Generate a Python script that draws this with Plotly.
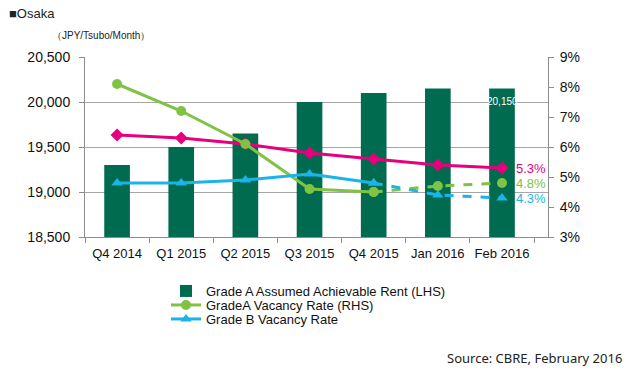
import plotly.graph_objects as go

categories = ["Q4 2014", "Q1 2015", "Q2 2015", "Q3 2015", "Q4 2015", "Jan 2016", "Feb 2016"]
rent = [19300, 19500, 19650, 20000, 20100, 20150, 20150]
grade_a_vac = [8.1, 7.2, 6.1, 4.6, 4.5, 4.7, 4.8]
grade_b_vac = [4.8, 4.8, 4.9, 5.1, 4.8, 4.4, 4.3]
all_grade_vac = [6.4, 6.3, 6.1, 5.8, 5.6, 5.4, 5.3]
left_ticks = [18500, 19000, 19500, 20000, 20500]
right_ticks = [3, 4, 5, 6, 7, 8, 9]

BAR = "#006B4F"
GREEN = "#80C342"
BLUE = "#1AB4E8"
PINK = "#E6007E"
AXIS = "#8C8C8C"
FONT = "Liberation Sans, Arial, sans-serif"

W, H = 637, 381
L, T = 85, 57
R = W - 548
B = H - 237
pw, ph = W - L - R, H - T - B


def px(x_ref):
    return (x_ref - L) / pw


def py(y_ref):
    return (H - B - y_ref) / ph


solid_n = 5  # actual quarters drawn solid, later months dashed
fig = go.Figure()
fig.add_trace(go.Bar(x=categories, y=rent, name="Grade A Assumed Achievable Rent (LHS)",
                     marker=dict(color=BAR, line=dict(width=0)), yaxis="y", legend="legend"))
fig.add_trace(go.Scatter(x=categories, y=all_grade_vac, mode="lines+markers", yaxis="y2",
                         line=dict(color=PINK, width=3), marker=dict(symbol="diamond", size=10, color=PINK),
                         showlegend=False))
fig.add_trace(go.Scatter(x=categories[:solid_n], y=grade_a_vac[:solid_n], mode="lines+markers", yaxis="y2",
                         name="GradeA Vacancy Rate (RHS)", legend="legend2",
                         line=dict(color=GREEN, width=3), marker=dict(symbol="circle", size=10, color=GREEN)))
fig.add_trace(go.Scatter(x=categories[solid_n - 1:], y=grade_a_vac[solid_n - 1:], mode="lines+markers", yaxis="y2",
                         line=dict(color=GREEN, width=3, dash="dash"),
                         marker=dict(symbol="circle", size=10, color=GREEN), showlegend=False))
fig.add_trace(go.Scatter(x=categories[:solid_n], y=grade_b_vac[:solid_n], mode="lines+markers", yaxis="y2",
                         name="Grade B Vacancy Rate", legend="legend3",
                         line=dict(color=BLUE, width=3), marker=dict(symbol="triangle-up", size=10, color=BLUE)))
fig.add_trace(go.Scatter(x=categories[solid_n - 1:], y=grade_b_vac[solid_n - 1:], mode="lines+markers", yaxis="y2",
                         line=dict(color=BLUE, width=3, dash="dash"),
                         marker=dict(symbol="triangle-up", size=10, color=BLUE), showlegend=False))

annotations = []
annotations.append(dict(text="■Osaka", x=px(7), y=py(14), xref="paper", yref="paper", showarrow=False,
                        xanchor="left", yanchor="middle", font=dict(size=13, color="#222", family=FONT)))
annotations.append(dict(text="（JPY/Tsubo/Month）", x=px(50), y=py(36), xref="paper", yref="paper", showarrow=False,
                        xanchor="left", yanchor="middle", font=dict(size=10, color="#222", family=FONT)))
annotations.append(dict(text="Source: CBRE, February 2016", x=px(624), y=py(358), xref="paper", yref="paper",
                        showarrow=False, xanchor="right", yanchor="middle",
                        font=dict(size=13, color="#222", family="Noto Sans, sans-serif")))
for vals, col in [(all_grade_vac, PINK), (grade_a_vac, GREEN), (grade_b_vac, BLUE)]:
    annotations.append(dict(text=f"{vals[-1]:.1f}%", x=categories[-1], y=vals[-1], xref="x", yref="y2",
                            showarrow=False, xanchor="left", xshift=12, yanchor="middle",
                            font=dict(size=13, color=col, family=FONT)))
annotations.append(dict(text=f"{rent[-1]:,}", x=categories[-1], y=rent[-1], xref="x", yref="y",
                        showarrow=False, yanchor="top", yshift=-5,
                        font=dict(size=10, color="white", family=FONT)))

leg_common = dict(xanchor="left", yanchor="middle", orientation="v",
                  font=dict(size=13, color="#111", family=FONT), bgcolor="rgba(0,0,0,0)",
                  borderwidth=0, itemwidth=30)

fig.update_layout(
    width=W, height=H,
    margin=dict(l=L, r=R, t=T, b=B, pad=0, autoexpand=False),
    paper_bgcolor="white", plot_bgcolor="white",
    font=dict(family=FONT, size=13, color="#111"),
    bargap=0.6,
    xaxis=dict(type="category", showline=True, linecolor=AXIS, linewidth=1, ticks="outside",
               tickson="boundaries", ticklen=5, tickcolor=AXIS, showgrid=False,
               ticklabelstandoff=4, tickfont=dict(size=13, color="#111")),
    yaxis=dict(range=[18500, 20500], tickvals=left_ticks, tickformat=",d", showline=True, linecolor=AXIS,
               ticks="outside", ticklen=5, tickcolor=AXIS, showgrid=True, gridcolor="#A6A6A6",
               gridwidth=1, zeroline=False, ticklabelstandoff=6, tickfont=dict(size=14, color="#111")),
    yaxis2=dict(range=[3, 9], tickvals=right_ticks, ticktext=[f"{v}%" for v in right_ticks],
                overlaying="y", side="right", showline=True, linecolor=AXIS, ticks="outside",
                ticklen=5, tickcolor=AXIS, showgrid=False, zeroline=False, ticklabelstandoff=3,
                tickfont=dict(size=14, color="#111")),
    legend=dict(x=px(166), y=py(291), **leg_common),
    legend2=dict(x=px(166), y=py(305), **leg_common),
    legend3=dict(x=px(166), y=py(319), **leg_common),
    annotations=annotations,
    showlegend=True,
)
fig.write_html("out.html", config={"displayModeBar": False},
               post_script="document.body.style.margin='0';document.body.style.padding='0';")
